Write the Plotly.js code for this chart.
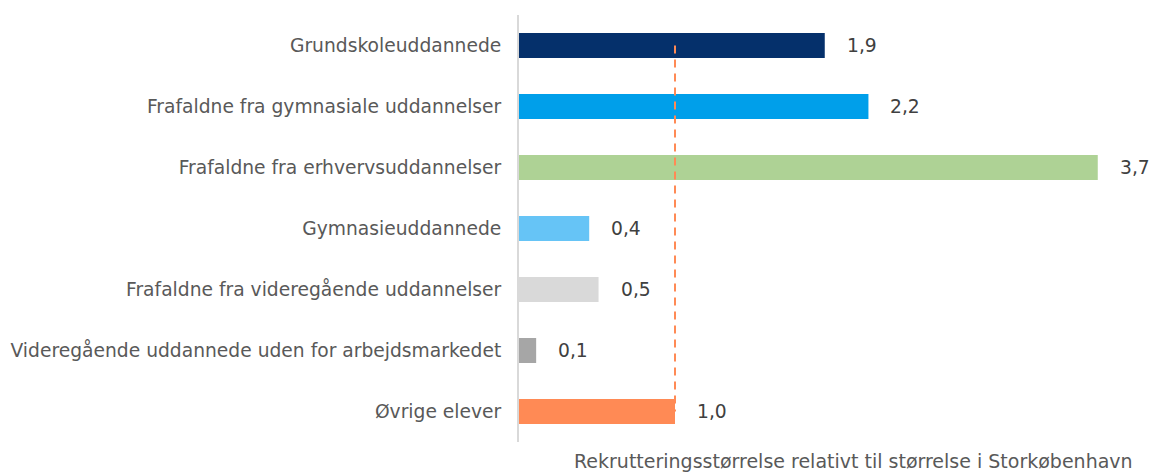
<!DOCTYPE html>
<html><head><meta charset="utf-8">
<script src="https://cdn.plot.ly/plotly-3.0.1.min.js"></script>
<style>html,body{margin:0;padding:0;background:#fff}#chart{width:1152px;height:473px}</style>
</head><body><div id="chart"></div>
<script>
const categories = [
  "Grundskoleuddannede",
  "Frafaldne fra gymnasiale uddannelser",
  "Frafaldne fra erhvervsuddannelser",
  "Gymnasieuddannede",
  "Frafaldne fra videregående uddannelser",
  "Videregående uddannede uden for arbejdsmarkedet",
  "Øvrige elever"
];
const values = [1.96, 2.24, 3.71, 0.45, 0.51, 0.11, 1.0];
const valueLabels = ["1,9", "2,2", "3,7", "0,4", "0,5", "0,1", "1,0"];
const colors = ["#05306B", "#009FEA", "#AED295", "#66C4F6", "#D9D9D9", "#A6A6A6", "#FF8A55"];
const referenceValue = 1.0;
const axisTitle = "Rekrutteringsstørrelse relativt til størrelse i Storkøbenhavn";

const font = "DejaVu Sans, Verdana, sans-serif";

const bars = {
  type: "bar", orientation: "h",
  x: values, y: categories,
  marker: {color: colors},
  hoverinfo: "skip", showlegend: false
};
const refLine = {
  type: "scatter", mode: "lines",
  x: [referenceValue, referenceValue],
  y: [categories[0], categories[categories.length - 1]],
  line: {color: "#FF8A55", width: 2, dash: "8px,6px"},
  hoverinfo: "skip", showlegend: false
};

const annotations = values.map((v, i) => ({
  x: v, y: categories[i], xref: "x", yref: "y",
  text: valueLabels[i], showarrow: false,
  xanchor: "left", xshift: 20,
  font: {family: font, size: 18.7, color: "#404040"}
}));
annotations.push({
  x: (853 - 519) / (1143 - 519), xref: "paper", y: 0, yref: "paper",
  text: axisTitle, showarrow: false,
  xanchor: "center", yanchor: "top", yshift: -6,
  font: {family: font, size: 19, color: "#595959"}
});

const layout = {
  width: 1152, height: 473,
  margin: {l: 519, r: 9, t: 15, b: 31},
  paper_bgcolor: "#fff", plot_bgcolor: "#fff",
  bargap: 0.59,
  font: {family: font, size: 18.7, color: "#595959"},
  xaxis: {range: [0, 4.0], showgrid: false, zeroline: false, showticklabels: false, showline: false, fixedrange: true},
  yaxis: {
    autorange: "reversed", showgrid: false, zeroline: false,
    showline: true, linecolor: "#D9D9D9", linewidth: 2,
    ticks: "", ticklabelstandoff: 12,
    tickfont: {family: font, size: 18.7, color: "#595959"}
  },
  annotations: annotations
};
Plotly.newPlot("chart", [bars, refLine], layout, {displayModeBar: false, staticPlot: true});
</script></body></html>
